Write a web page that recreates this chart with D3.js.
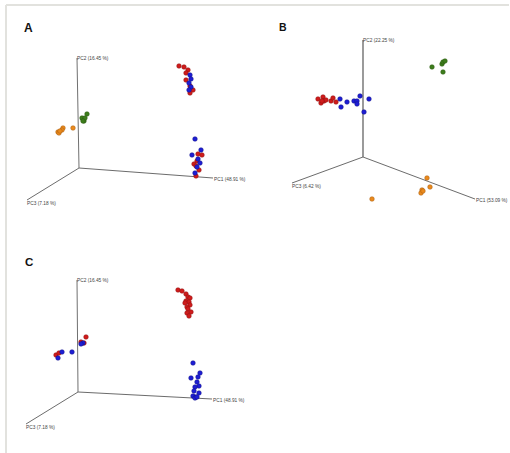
<!DOCTYPE html>
<html>
<head>
<meta charset="utf-8">
<script src="https://cdn.jsdelivr.net/npm/d3@7"></script>
<style>
  body { margin: 0; background: #fff; }
  svg { display: block; }
  .axis-line { stroke: #5a5a5a; stroke-width: 0.9; }
  .axis-text { font-family: "Liberation Sans", Arial, sans-serif; font-size: 4.8px; fill: #444; }
  .panel-letter { font-family: "Liberation Sans", Arial, sans-serif; font-weight: bold; fill: #111; }
</style>
</head>
<body>
<script>
// Projected coordinates, relative to each plot origin (y up)

// axis ends [PC1, PC2, PC3]
var axesA = [[134, -10], [-2, 110], [-52, -32]];
var axesB = [[112, -42], [0, 117], [-71, -26]];
var axesC = [[134, -7], [-1, 112], [-52, -32]];

var labelsA = ["PC1 (48.91 %)", "PC2 (16.45 %)", "PC3 (7.18 %)"];
var labelsB = ["PC1 (53.09 %)", "PC2 (22.25 %)", "PC3 (6.42 %)"];
var labelsC = ["PC1 (48.91 %)", "PC2 (16.45 %)", "PC3 (7.18 %)"];

// panel A
var redA = [[100, 102], [105, 101], [109, 98], [107, 95], [107, 88], [111, 82], [114, 78], [111, 75],
  [119, 14], [123, 13], [118, 7], [115, 4], [117, 2], [120, -2], [117, -8]];
var blueA = [[111, 93], [112, 89], [110, 85], [112, 81], [110, 78],
  [116, 29], [122, 18], [113, 13], [119, 9], [121, 5], [118, 1], [116, -5]];
var greenA = [[8, 54], [4, 49], [3, 50], [5, 47], [6, 50], [4, 47]];
var orangeA = [[-6, 40], [-16, 40], [-17, 38], [-21, 36], [-20, 35], [-19, 37]];

// panel B
var redB = [[-45, 58], [-40, 60], [-42, 54], [-39, 56], [-37, 57], [-41, 56], [-32, 56], [-30, 59], [-27, 55]];
var blueB = [[-23, 58], [-16, 55], [-22, 50], [-9, 56], [-6, 56], [-3, 61], [-6, 53], [6, 58], [1, 45]];
var greenB = [[69, 90], [79, 93], [80, 95], [82, 96], [80, 85]];
var orangeB = [[64, -21], [59, -33], [58, -36], [67, -30], [60, -34], [9, -42]];

// panel C
var redC = [[100, 102], [104, 101], [108, 98], [110, 95], [112, 94], [108, 91], [111, 90], [107, 89],
  [112, 87], [109, 85], [110, 83], [113, 80], [109, 79], [111, 76],
  [8, 55], [3, 50], [6, 49], [-22, 37], [-19, 39]];
var blueC = [[115, 29], [122, 19], [113, 14], [120, 15], [119, 10], [121, 6], [117, 5], [121, -1],
  [116, 1], [115, -4], [118, -5], [117, -6], [119, -5],
  [5, 49], [3, 48], [-6, 40], [-16, 40], [-20, 34]];

var colors = {
  red: ["#cf1c1c", "#8e0e0e"],
  blue: ["#1e1ed4", "#0e0e86"],
  green: ["#3d7d1c", "#28560f"],
  orange: ["#ea8a1e", "#a85c0c"]
};

var svg = d3.select("body").append("svg")
  .attr("width", 510)
  .attr("height", 453);

// figure frame (top and left edges)
svg.append("line").attr("x1", 6).attr("y1", 5).attr("x2", 509).attr("y2", 5)
  .attr("stroke", "#e2e2de").attr("stroke-width", 2);
svg.append("line").attr("x1", 6).attr("y1", 5).attr("x2", 6).attr("y2", 453)
  .attr("stroke", "#e2e2de").attr("stroke-width", 2);

function drawPanel(opt) {
  var x = d3.scaleLinear().domain([-100, 200]).range([opt.ox - 100, opt.ox + 200]);
  var y = d3.scaleLinear().domain([-100, 200]).range([opt.oy + 100, opt.oy - 200]);
  var g = svg.append("g");

  g.append("text")
    .attr("class", "panel-letter")
    .attr("x", opt.letterPos[0])
    .attr("y", opt.letterPos[1])
    .style("font-size", opt.letterSize + "px")
    .text(opt.letter);

  g.selectAll(".axis-line")
    .data(opt.axes)
    .enter()
    .append("line")
    .attr("class", "axis-line")
    .attr("x1", x(0)).attr("y1", y(0))
    .attr("x2", d => x(d[0]))
    .attr("y2", d => y(d[1]))
    .style("stroke-width", (d, i) => i === 1 ? opt.pc2Width : 0.9)
    .style("stroke", (d, i) => i === 1 ? "#707070" : "#5a5a5a");

  var offs = [[1, 2.5], [0, 2], [0, 5]];
  g.selectAll(".axis-text")
    .data(opt.axes)
    .enter()
    .append("text")
    .attr("class", "axis-text")
    .attr("x", (d, i) => x(d[0]) + offs[i][0])
    .attr("y", (d, i) => y(d[1]) + offs[i][1])
    .text((d, i) => opt.labels[i]);

  opt.groups.forEach(function(grp) {
    g.append("g").selectAll("circle")
      .data(grp.pts)
      .enter()
      .append("circle")
      .attr("cx", d => x(d[0]))
      .attr("cy", d => y(d[1]))
      .attr("r", 2.3)
      .attr("fill", colors[grp.c][0])
      .attr("stroke", colors[grp.c][1])
      .attr("stroke-width", 0.5);
  });
}

drawPanel({
  letter: "A", letterPos: [24, 32], letterSize: 12,
  ox: 79, oy: 168, axes: axesA, labels: labelsA, pc2Width: 1,
  groups: [{pts: orangeA, c: "orange"}, {pts: greenA, c: "green"}, {pts: redA, c: "red"}, {pts: blueA, c: "blue"}]
});

drawPanel({
  letter: "B", letterPos: [279, 31], letterSize: 10.5,
  ox: 363, oy: 157, axes: axesB, labels: labelsB, pc2Width: 1.4,
  groups: [{pts: orangeB, c: "orange"}, {pts: greenB, c: "green"}, {pts: redB, c: "red"}, {pts: blueB, c: "blue"}]
});

drawPanel({
  letter: "C", letterPos: [25, 266], letterSize: 11.5,
  ox: 78, oy: 392, axes: axesC, labels: labelsC, pc2Width: 1,
  groups: [{pts: redC, c: "red"}, {pts: blueC, c: "blue"}]
});
</script>
</body>
</html>
